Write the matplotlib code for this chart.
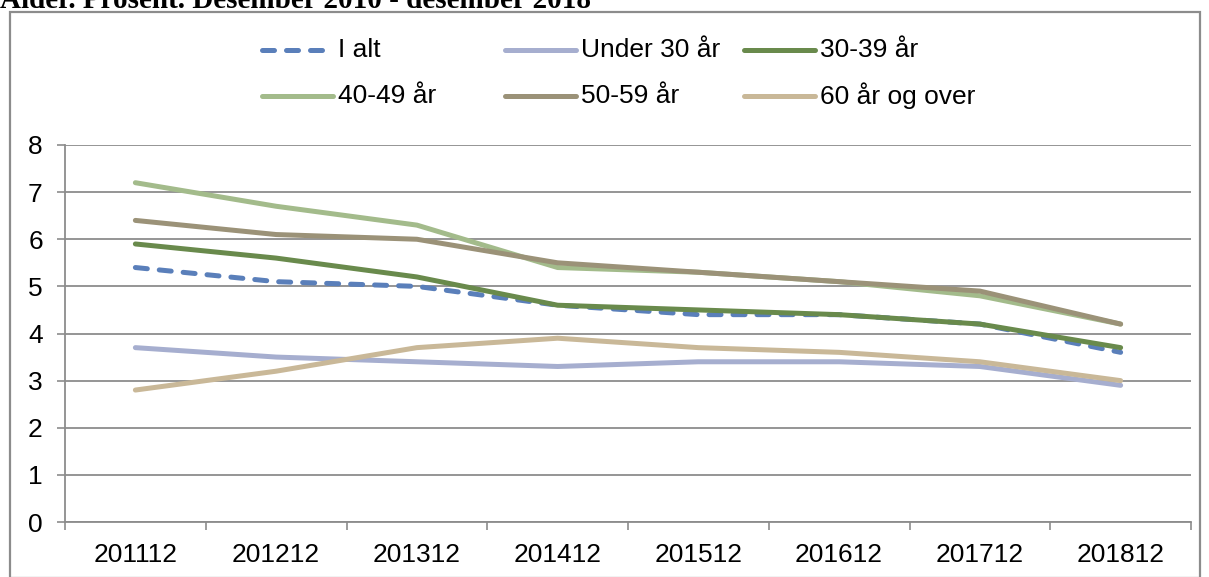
import matplotlib
matplotlib.use("Agg")
import matplotlib.pyplot as plt
from matplotlib.lines import Line2D
from matplotlib.patches import Rectangle

categories = ["201112", "201212", "201312", "201412", "201512", "201612", "201712", "201812"]
i_alt = [5.4, 5.1, 5.0, 4.6, 4.4, 4.4, 4.2, 3.6]
under_30 = [3.7, 3.5, 3.4, 3.3, 3.4, 3.4, 3.3, 2.9]
a30_39 = [5.9, 5.6, 5.2, 4.6, 4.5, 4.4, 4.2, 3.7]
a40_49 = [7.2, 6.7, 6.3, 5.4, 5.3, 5.1, 4.8, 4.2]
a50_59 = [6.4, 6.1, 6.0, 5.5, 5.3, 5.1, 4.9, 4.2]
a60_over = [2.8, 3.2, 3.7, 3.9, 3.7, 3.6, 3.4, 3.0]

series_names = ["I alt", "Under 30 år", "30-39 år", "40-49 år", "50-59 år", "60 år og over"]
series_values = [i_alt, under_30, a30_39, a40_49, a50_59, a60_over]
colors = ["#5a7fba", "#a6aecf", "#698a4c", "#a3bb8b", "#9b9278", "#c9b898"]

W, H = 1209, 577
fig = plt.figure(figsize=(W / 100, H / 100), dpi=100)
plt.rcParams['font.family'] = ['Liberation Sans', 'DejaVu Sans']
FS = 19

def fx(px):
    return px / W

def fy(py):
    return 1 - py / H

# outer frame
fig.add_artist(Rectangle((fx(10), fy(578)), fx(1200) - fx(10), fy(12) - fy(578),
                         transform=fig.transFigure, fill=False, edgecolor="#8c8c8c",
                         linewidth=1.6, clip_on=False))

# clipped title at top
fig.text(fx(0), fy(8), "Alder. Prosent. Desember 2010 - desember 2018",
         family=["Liberation Serif", "DejaVu Serif"], fontweight="bold",
         fontsize=21, va="baseline", ha="left")

ax = fig.add_axes([fx(65), fy(522), fx(1191) - fx(65), fy(145) - fy(522)])
x = list(range(len(categories)))
lw = 3.6
DASH = (2.4, 2.4)
for name, vals, c in zip(series_names, series_values, colors):
    if name == "I alt":
        ax.plot(x, vals, color=c, lw=lw, dashes=DASH, dash_capstyle="round",
                solid_capstyle="round")
    else:
        ax.plot(x, vals, color=c, lw=lw, solid_capstyle="round", solid_joinstyle="round")

ax.set_xlim(-0.5, len(categories) - 0.5)
ax.set_ylim(0, 8)
ax.set_yticks(range(0, 9))
ax.yaxis.grid(True, color="#8c8c8c", lw=1.3)
ax.set_axisbelow(True)
ax.set_xticks(x)
ax.set_xticklabels(categories)
ax.set_xticks([i - 0.5 for i in range(len(categories) + 1)], minor=True)
ax.tick_params(axis="x", which="major", length=0, pad=15, labelsize=FS)
ax.tick_params(axis="x", which="minor", length=6, color="#8c8c8c", width=1.2)
ax.tick_params(axis="y", length=6, color="#8c8c8c", width=1.2, labelsize=FS, pad=10)
for s in ["top", "right"]:
    ax.spines[s].set_visible(False)
for s in ["left", "bottom"]:
    ax.spines[s].set_color("#8c8c8c")
    ax.spines[s].set_linewidth(1.3)

# legend (Excel-style fixed cells)
legend_pos = [(262, 50), (505, 50), (744, 50), (262, 96), (505, 96), (744, 96)]
for (px, py), name, c in zip(legend_pos, series_names, colors):
    kw = dict(color=c, lw=lw, transform=fig.transFigure, solid_capstyle="round")
    if name == "I alt":
        kw.update(dashes=DASH, dash_capstyle="round")
        x_end = px + 62
    else:
        x_end = px + 71
    fig.add_artist(Line2D([fx(px), fx(x_end)], [fy(py), fy(py)], **kw))
    fig.text(fx(px + 76), fy(py), name, fontsize=FS, va="center", ha="left")

fig.savefig("out.png", dpi=100)
